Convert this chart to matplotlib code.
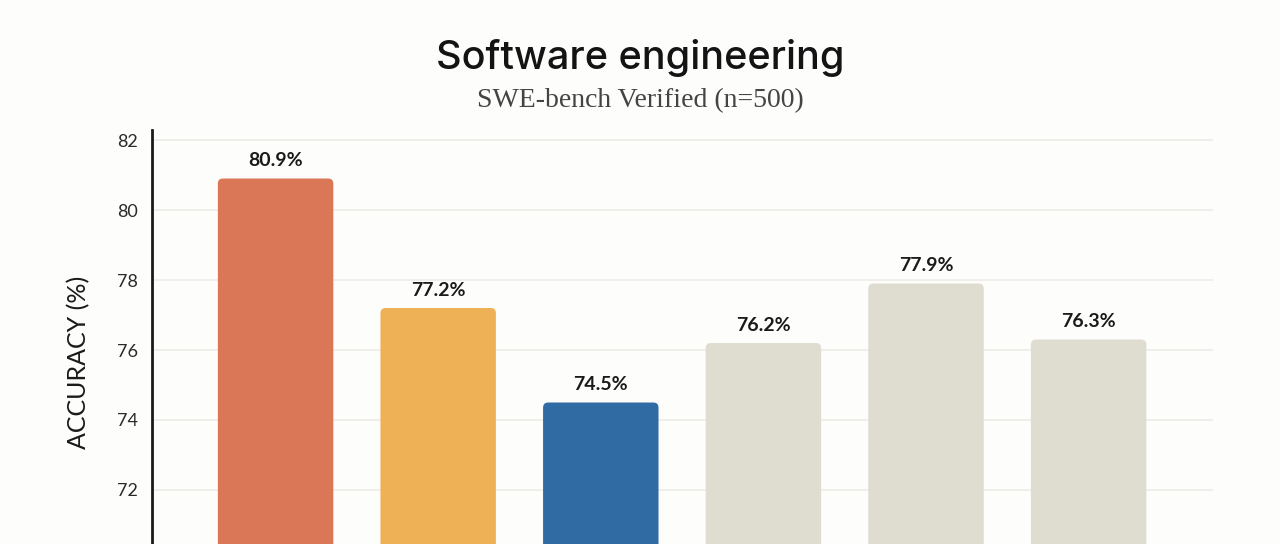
import numpy as np
import matplotlib
matplotlib.use('Agg')
import matplotlib.pyplot as plt
from matplotlib.patches import FancyBboxPatch

# 데이터
models = ['A', 'B', 'C', 'D', 'E', 'F']
scores = [80.9, 77.2, 74.5, 76.2, 77.9, 76.3]
colors = ['#D97757', '#EFB156', '#306BA3', '#DFDCD0', '#DFDCD0', '#DFDCD0']
yticks = [72, 74, 76, 78, 80, 82]

bg = '#FDFDFB'
fig = plt.figure(figsize=(12.8, 5.44), dpi=100, facecolor=bg)
ax = fig.add_axes([152 / 1280, 0, (1213 - 152) / 1280, 414 / 544])
ax.set_facecolor(bg)

x = np.arange(len(models))
bars = ax.bar(x, [s - 60 for s in scores], bottom=60, width=0.71, color=colors, zorder=2)

# 막대 모서리 둥글게 : FancyBboxPatch로 교체
for b, c in zip(bars, colors):
    b.set_visible(False)
    p = FancyBboxPatch((b.get_x(), b.get_y()), b.get_width(), b.get_height(),
                       boxstyle='round,pad=0,rounding_size=0.032',
                       mutation_aspect=4.6, facecolor=c, edgecolor='none', zorder=2)
    ax.add_patch(p)

for xi, s in zip(x, scores):
    ax.text(xi, s + 0.27, f'{s}%', ha='center', va='bottom', fontsize=14,
            fontfamily='Lato', fontweight='bold', color='#1A1A1A')

ax.set_xlim(-0.76, 5.765)
ax.set_ylim(70.457, 82.286)
ax.set_yticks(yticks)
ax.set_yticklabels([str(t) for t in yticks], fontsize=13, fontfamily='Lato', color='#2A2A2A')
ax.tick_params(axis='y', length=0, pad=10)
ax.set_xticks([])
ax.grid(axis='y', color='#EEECE6', linewidth=1.2, zorder=0)
for s in ['top', 'right', 'bottom']:
    ax.spines[s].set_visible(False)
ax.spines['left'].set_linewidth(2)
ax.spines['left'].set_color('#1A1A1A')
ax.set_ylabel('ACCURACY (%)', fontsize=18, fontfamily='Lato', color='#1A1A1A')
ax.yaxis.set_label_coords(-62 / 1061, (544 - 362) / 414)

fig.text(640 / 1280, 1 - 58 / 544, 'Software engineering', ha='center', va='center',
         fontsize=28.5, fontfamily='Inter', fontweight='medium', color='#141414')
fig.text(640 / 1280, 1 - 101 / 544, 'SWE-bench Verified (n=500)', ha='center', va='center',
         fontsize=20, fontfamily='Liberation Serif', color='#444444')

fig.savefig('out.png', dpi=100, facecolor=bg)
